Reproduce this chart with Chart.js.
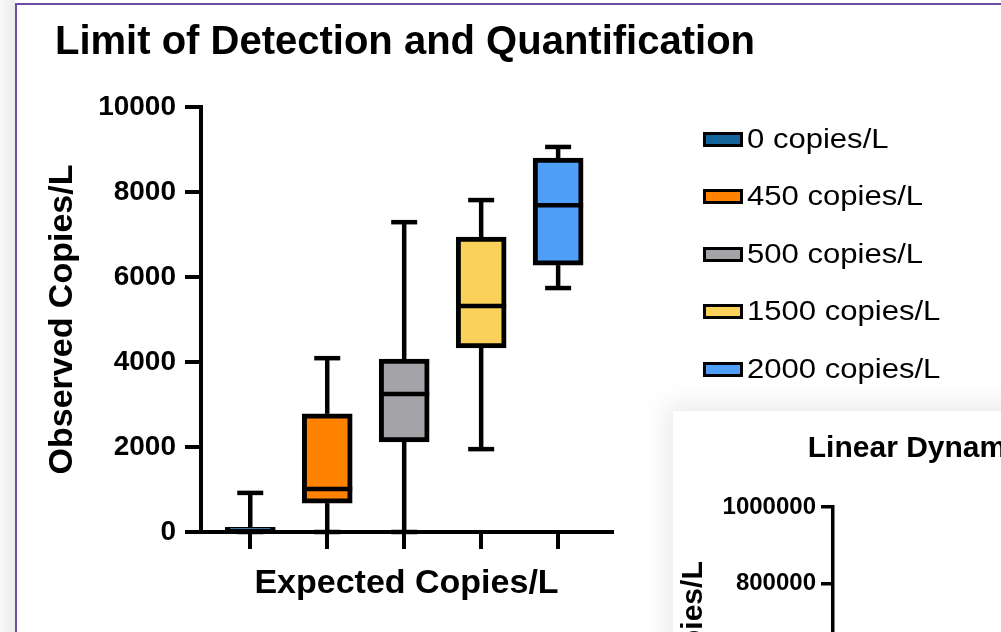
<!DOCTYPE html>
<html>
<head>
<meta charset="utf-8">
<script src="https://cdn.jsdelivr.net/npm/chart.js@4.4.1/dist/chart.umd.min.js"></script>
<style>
html,body{margin:0;padding:0;width:1001px;height:632px;overflow:hidden;background:#fff;font-family:"Liberation Sans",Arial,sans-serif;}
#strip{position:absolute;left:0;top:0;width:15px;height:632px;background:linear-gradient(to right,#f8f8f8,#ececec);}
#frame{position:absolute;left:15px;top:3px;width:990px;height:640px;border-left:2px solid #6b4ba3;border-top:2px solid #6b4ba3;box-sizing:border-box;}
#main{position:absolute;left:0;top:0;}
#legend{position:absolute;left:703px;top:0;width:298px;height:400px;}
.item{position:absolute;left:0;height:30px;display:flex;align-items:center;white-space:nowrap;}
.sw{width:40px;height:15px;box-sizing:border-box;border:3px solid #000;flex:none;}
.lt{font-size:27px;margin-left:4px;color:#000;transform:scaleX(1.15);transform-origin:left center;}
#panel2{position:absolute;left:673px;top:411px;width:600px;height:400px;background:#fff;box-shadow:0 0 26px 6px rgba(0,0,0,0.09);overflow:hidden;}
#c2{position:absolute;left:0;top:0;}
</style>
</head>
<body>
<div id="strip"></div>
<div id="frame"></div>
<canvas id="main" width="1001" height="632"></canvas>
<div id="legend"></div>
<div id="panel2"><canvas id="c2" width="593" height="560"></canvas></div>
<script>
// ---- data ----
const categories = ['0 copies/L', '450 copies/L', '500 copies/L', '1500 copies/L', '2000 copies/L'];
const mins    = [0,   0,    0,    1950, 5740];
const q1s     = [0,   680,  2120, 4330, 6280];
const medians = [20,  1010, 3250, 5320, 7690];
const q3s     = [110, 2780, 4070, 6940, 8800];
const maxs    = [920, 4090, 7290, 7810, 9060];
const colors  = ['#12649A', '#FF8200', '#A4A4A8', '#F9D15B', '#4F9EF7'];
const yTicks  = [0, 2000, 4000, 6000, 8000, 10000];
const lin_yTicks = [0, 200000, 400000, 600000, 800000, 1000000];

const FONT = '"Liberation Sans", Arial, Helvetica, sans-serif';
Chart.defaults.font.family = FONT;
Chart.defaults.color = '#000';

const boxWhiskers = {
  id: 'boxWhiskers',
  afterDatasetsDraw(chart) {
    const ctx = chart.ctx, y = chart.scales.y;
    ctx.save();
    ctx.strokeStyle = '#000';
    ctx.lineWidth = 4.5;
    ctx.lineCap = 'butt';
    const line = (x1, y1, x2, y2) => { ctx.beginPath(); ctx.moveTo(x1, y1); ctx.lineTo(x2, y2); ctx.stroke(); };
    chart.data.datasets.forEach((ds, i) => {
      const bar = chart.getDatasetMeta(i).data[0];
      if (!bar) return;
      const x = bar.x, hw = bar.width / 2, cap = 13;
      const pMin = y.getPixelForValue(mins[i]), pMax = y.getPixelForValue(maxs[i]);
      const pQ1 = y.getPixelForValue(q1s[i]), pQ3 = y.getPixelForValue(q3s[i]);
      const pMed = y.getPixelForValue(medians[i]);
      line(x, pQ3, x, pMax); line(x - cap, pMax, x + cap, pMax);
      line(x, pQ1, x, pMin); line(x - cap, pMin, x + cap, pMin);
      line(x - hw, pMed, x + hw, pMed);
    });
    ctx.restore();
  }
};

new Chart(document.getElementById('main'), {
  type: 'bar',
  data: {
    datasets: categories.map((c, i) => ({
      label: c,
      data: [{ x: i, y: [q1s[i], q3s[i]] }],
      backgroundColor: colors[i],
      borderColor: '#000',
      borderWidth: 5,
      borderSkipped: false,
      barThickness: 50,
      grouped: false
    }))
  },
  options: {
    responsive: false,
    animation: false,
    layout: { padding: { left: 55, right: 0, top: 0, bottom: 0 } },
    plugins: {
      legend: { display: false },
      tooltip: { enabled: false },
      title: {
        display: true, text: 'Limit of Detection and Quantification', align: 'start',
        color: '#000', font: { size: 40, weight: 'bold' }, padding: { top: 19, bottom: 40 }
      }
    },
    scales: {
      x: {
        type: 'linear', min: -0.64, max: 4.7, offset: false,
        ticks: { stepSize: 1, includeBounds: false, display: false },
        grid: { drawOnChartArea: false, tickLength: 17, color: '#000', lineWidth: 4, offset: false },
        border: { color: '#000', width: 4 },
        title: { display: true, text: 'Expected Copies/L', color: '#000', font: { size: 34, weight: 'bold' }, padding: { top: 0, bottom: 28 } },
        afterFit(s) { s.height = 100; }
      },
      y: {
        min: 0, max: 10000,
        afterBuildTicks(s) { s.ticks = yTicks.map(v => ({ value: v })); },
        ticks: { callback: v => String(v), color: '#000', font: { size: 28, weight: 'bold' }, padding: 9 },
        grid: { drawOnChartArea: false, tickLength: 16, color: '#000', lineWidth: 4 },
        border: { color: '#000', width: 4 },
        title: { display: true, text: 'Observed Copies/L', color: '#000', font: { size: 34, weight: 'bold' }, padding: { top: -13, bottom: 0 } },
        afterFit(s) { s.width = 146; }
      },
      spacer: {
        axis: 'y', position: 'right', display: true,
        ticks: { display: false }, grid: { display: false }, border: { display: false },
        afterFit(s) { s.width = 389; }
      }
    }
  },
  plugins: [boxWhiskers]
});

// HTML legend built from the same arrays
const legend = document.getElementById('legend');
categories.forEach((c, i) => {
  const it = document.createElement('div');
  it.className = 'item';
  it.style.top = (124 + i * 57.5) + 'px';
  const sw = document.createElement('span'); sw.className = 'sw'; sw.style.background = colors[i];
  const t = document.createElement('span'); t.className = 'lt'; t.textContent = c;
  it.appendChild(sw); it.appendChild(t); legend.appendChild(it);
});

// second (partially visible) panel
new Chart(document.getElementById('c2'), {
  type: 'scatter',
  data: { datasets: [{ label: 'Observed', data: [] }] },
  options: {
    responsive: false,
    animation: false,
    layout: { padding: 0 },
    plugins: {
      legend: { display: false }, tooltip: { enabled: false },
      title: { display: true, text: 'Linear Dynamic Range', color: '#000', font: { size: 30, weight: 'bold' }, padding: { top: 20, bottom: 40 } }
    },
    scales: {
      x: {
        type: 'linear', min: 0, max: 1000000,
        ticks: { display: false }, grid: { drawOnChartArea: false, color: '#000', lineWidth: 3 },
        border: { color: '#000', width: 3 },
        afterFit(s) { s.height = 82; }
      },
      y: {
        min: 0, max: 1000000,
        afterBuildTicks(s) { s.ticks = lin_yTicks.map(v => ({ value: v })); },
        ticks: { callback: v => String(v), color: '#000', font: { size: 24, weight: 'bold' }, padding: 5 },
        grid: { drawOnChartArea: false, tickLength: 12, color: '#000', lineWidth: 3.5 },
        border: { color: '#000', width: 3.5 },
        title: { display: true, text: 'Observed Copies/L', color: '#000', font: { size: 30, weight: 'bold' }, padding: { top: 3, bottom: 0 } },
        afterFit(s) { s.width = 160; }
      }
    }
  }
});
</script>
</body>
</html>
